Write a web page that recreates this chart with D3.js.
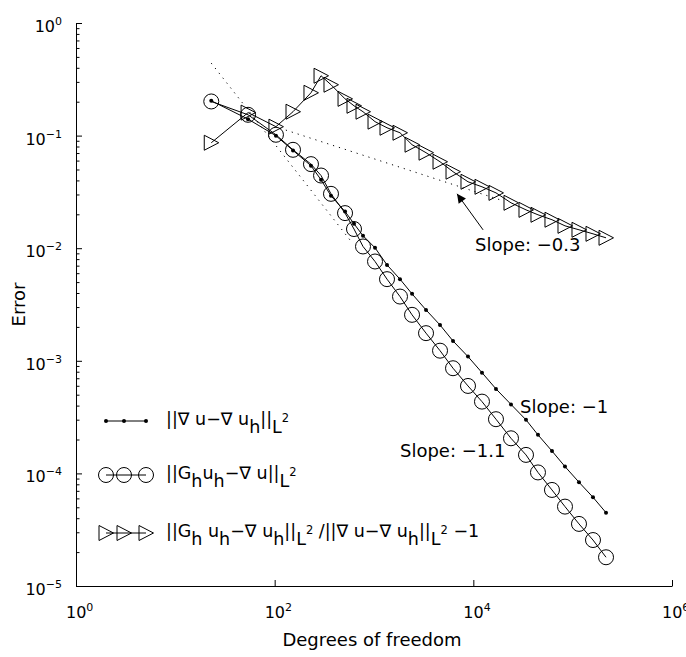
<!DOCTYPE html>
<html>
<head>
<meta charset="utf-8">
<script src="https://cdn.jsdelivr.net/npm/d3@7"></script>
<style>
  body { margin: 0; background: #fff; }
  svg text { font-family: "DejaVu Sans", "Liberation Sans", sans-serif; fill: #000; white-space: pre; }
</style>
</head>
<body>
<svg id="chart"></svg>
<script>
// degrees of freedom of each refinement step
const dofs = [23, 54, 103, 153, 232, 293, 369, 511, 629, 775, 1024, 1352, 1827, 2415, 3340,
  4621, 6244, 8836, 12220, 16900, 23940, 33900, 44750, 61900, 83700, 115800, 160200, 216700];

// ||grad u - grad u_h||  (small dots)
const gradError = [0.204, 0.140, 0.0997, 0.0738, 0.0540, 0.0405, 0.0292, 0.0212, 0.0165, 0.0129,
  0.01008, 0.00711, 0.00531, 0.00393, 0.00283, 0.00208, 0.00150, 0.00109, 0.000785, 0.000563,
  0.000410, 0.000299, 0.000220, 0.000158, 0.000115, 8.35e-5, 6.14e-5, 4.48e-5];

// ||G_h u_h - grad u||  (circles)
const recoveryError = [0.201, 0.153, 0.1017, 0.0748, 0.0558, 0.0442, 0.0304, 0.0205, 0.0148, 0.01036,
  0.00762, 0.00531, 0.00372, 0.00256, 0.00176, 0.00123, 0.000859, 0.000598, 0.000434, 0.000303,
  0.000205, 0.000146, 0.000102, 7.13e-5, 5.07e-5, 3.56e-5, 2.56e-5, 1.80e-5];

// ratio - 1  (triangles)
const effectivityError = [0.0864, 0.160, 0.120, 0.163, 0.240, 0.340, 0.283, 0.212, 0.184, 0.163,
  0.133, 0.1174, 0.106, 0.0830, 0.0705, 0.0586, 0.0478, 0.0389, 0.0351, 0.0310,
  0.0253, 0.0219, 0.0198, 0.0179, 0.0158, 0.01457, 0.01342, 0.01237];

const xTickExps = [0, 2, 4, 6];
const yTickExps = [-5, -4, -3, -2, -1, 0];

// reference slope lines (dotted)
const steepSlopeX = [23, 570];
const steepSlopeY = [0.44, 0.0119];
const flatSlopeX = [113, 18570];
const flatSlopeY = [0.1164, 0.0269];

// arrow pointing at the flat slope line: tail, tip
const arrowX = [12540, 6850];
const arrowY = [0.01455, 0.0304];

const slopeLabels = ['Slope: \u22120.3', 'Slope: \u22121', 'Slope: \u22121.1'];
const slopeLabelX = [10400, 29500, 1827];
const slopeLabelY = [0.0095, 3.44e-4, 1.40e-4];

const legendRows = [
  [['||\u2207 u\u2212\u2207 u', ''], ['h', 'sub'], ['||', ''], ['L', 'sub'], ['2', 'sup']],
  [['||G', ''], ['h', 'sub'], ['u', ''], ['h', 'sub'], ['\u2212\u2207 u||', ''], ['L', 'sub'], ['2', 'sup']],
  [['||G', ''], ['h', 'sub'], [' u', ''], ['h', 'sub'], ['\u2212\u2207 u', ''], ['h', 'sub'], ['||', ''],
   ['L', 'sub'], ['2', 'sup'], [' /||\u2207 u\u2212\u2207 u', ''], ['h', 'sub'], ['||', ''], ['L', 'sub'],
   ['2', 'sup'], [' \u22121', '']]
];

class convergencePlot {

  constructor(_config) {
    this.config = {
      parentElement: _config.parentElement,
      containerWidth: _config.containerWidth || 686,
      containerHeight: _config.containerHeight || 657,
      margin: _config.margin || { top: 23, right: 14, bottom: 71, left: 76 }
    };
    this.initVis();
  }

  initVis() {
    let vis = this;

    vis.width = vis.config.containerWidth - vis.config.margin.left - vis.config.margin.right;
    vis.height = vis.config.containerHeight - vis.config.margin.top - vis.config.margin.bottom;

    vis.svg = d3.select(vis.config.parentElement)
      .attr('width', vis.config.containerWidth)
      .attr('height', vis.config.containerHeight);

    vis.xScale = d3.scaleLog().domain([1, 1e6]).range([0, vis.width]);
    vis.yScale = d3.scaleLog().domain([1e-5, 1]).range([vis.height, 0]);

    vis.chart = vis.svg.append('g')
      .attr('transform', `translate(${vis.config.margin.left},${vis.config.margin.top})`);

    vis.svg.append('defs').append('marker')
      .attr('id', 'arrowhead')
      .attr('viewBox', '0 0 10 10')
      .attr('refX', 10).attr('refY', 5)
      .attr('markerUnits', 'userSpaceOnUse')
      .attr('markerWidth', 13).attr('markerHeight', 9)
      .attr('orient', 'auto')
      .append('path').attr('d', 'M0,0L10,5L0,10z').attr('fill', '#000');

    // axis labels
    vis.svg.append('text')
      .attr('x', vis.config.margin.left + vis.width / 2 - 2)
      .attr('y', 646)
      .attr('text-anchor', 'middle')
      .attr('font-size', 18)
      .text('Degrees of freedom');

    vis.svg.append('text')
      .attr('transform', `translate(25, ${vis.config.margin.top + vis.height / 2}) rotate(-90)`)
      .attr('text-anchor', 'middle')
      .attr('font-size', 18)
      .text('Error');

    vis.renderVis();
  }

  renderVis() {
    let vis = this;
    const x = vis.xScale, y = vis.yScale;

    // axes: ticks point inwards, no box
    const yMajor = yTickExps.map(e => Math.pow(10, e));
    const yMinor = [];
    yTickExps.slice(0, -1).forEach(e => {
      for (let k = 2; k < 10; k++) yMinor.push(k * Math.pow(10, e));
    });

    const yAxisG = vis.chart.append('g').attr('class', 'y-axis');
    yAxisG.call(d3.axisLeft(y).tickValues(yMajor).tickSizeInner(-6).tickSizeOuter(0).tickFormat(''));
    yAxisG.append('g').call(d3.axisLeft(y).tickValues(yMinor).tickSizeInner(-3.5).tickSizeOuter(0).tickFormat(''))
      .select('.domain').remove();

    const xAxisG = vis.chart.append('g').attr('class', 'x-axis')
      .attr('transform', `translate(0,${vis.height})`);
    xAxisG.call(d3.axisBottom(x).tickValues(xTickExps.map(e => Math.pow(10, e)))
      .tickSizeInner(-6).tickSizeOuter(0).tickFormat(''));

    vis.chart.selectAll('.domain, .tick line').attr('stroke', '#000').attr('stroke-width', 1);

    const powerLabel = (sel, e) => {
      sel.append('tspan').text('10');
      sel.append('tspan').attr('dy', -7).attr('font-size', 11)
        .text(e < 0 ? '\u2212' + (-e) : String(e));
    };

    yTickExps.forEach(e => {
      vis.chart.append('text')
        .attr('x', -14)
        .attr('y', y(Math.pow(10, e)) + 9)
        .attr('text-anchor', 'end')
        .attr('font-size', 16)
        .call(powerLabel, e);
    });

    // the "10" sits centred on the tick, exponent trails it
    xTickExps.forEach(e => {
      vis.chart.append('text')
        .attr('x', x(Math.pow(10, e)) - 10)
        .attr('y', vis.height + 32)
        .attr('font-size', 16)
        .call(powerLabel, e);
    });

    // dotted reference slopes
    const slopeLine = d3.line().x(d => x(d[0])).y(d => y(d[1]));
    [[steepSlopeX, steepSlopeY], [flatSlopeX, flatSlopeY]].forEach(([xs, ys]) => {
      vis.chart.append('path')
        .attr('d', slopeLine(d3.zip(xs, ys)))
        .attr('fill', 'none')
        .attr('stroke', '#000')
        .attr('stroke-width', 1)
        .attr('stroke-dasharray', '1.2 5');
    });

    // series lines
    const seriesLine = d3.line().x(d => x(d[0])).y(d => y(d[1]));
    [gradError, recoveryError, effectivityError].forEach(vals => {
      vis.chart.append('path')
        .attr('d', seriesLine(d3.zip(dofs, vals)))
        .attr('fill', 'none')
        .attr('stroke', '#000')
        .attr('stroke-width', 1);
    });

    const triPath = 'M-7,-7.5L-7,7.5L7.5,0Z';

    vis.chart.selectAll('.dot')
      .data(d3.zip(dofs, gradError))
      .join('circle')
      .attr('class', 'dot')
      .attr('cx', d => x(d[0])).attr('cy', d => y(d[1]))
      .attr('r', 2).attr('fill', '#000');

    vis.chart.selectAll('.ring')
      .data(d3.zip(dofs, recoveryError))
      .join('circle')
      .attr('class', 'ring')
      .attr('cx', d => x(d[0])).attr('cy', d => y(d[1]))
      .attr('r', 7.5).attr('fill', 'none').attr('stroke', '#000').attr('stroke-width', 1);

    vis.chart.selectAll('.tri')
      .data(d3.zip(dofs, effectivityError))
      .join('path')
      .attr('class', 'tri')
      .attr('transform', d => `translate(${x(d[0])},${y(d[1])})`)
      .attr('d', triPath).attr('fill', 'none').attr('stroke', '#000').attr('stroke-width', 1);

    // annotation arrow + slope labels
    vis.chart.append('line')
      .attr('x1', x(arrowX[0])).attr('y1', y(arrowY[0]))
      .attr('x2', x(arrowX[1])).attr('y2', y(arrowY[1]))
      .attr('stroke', '#000').attr('stroke-width', 1)
      .attr('marker-end', 'url(#arrowhead)');

    slopeLabels.forEach((t, i) => {
      vis.chart.append('text')
        .attr('x', x(slopeLabelX[i]))
        .attr('y', y(slopeLabelY[i]))
        .attr('font-size', 18)
        .text(t);
    });

    // legend
    const legend = vis.svg.append('g').attr('class', 'legend');
    const rowY = [421, 475, 533];
    const fs = 17.5;
    const offsets = { '': 0, sub: 8, sup: -3 };
    legendRows.forEach((segs, i) => {
      const ly = rowY[i];
      legend.append('line')
        .attr('x1', 106).attr('x2', 146).attr('y1', ly).attr('y2', ly)
        .attr('stroke', '#000').attr('stroke-width', 1);
      [106, 124, 146].forEach(mx => {
        if (i === 0) {
          legend.append('circle').attr('cx', mx).attr('cy', ly).attr('r', 2).attr('fill', '#000');
        } else if (i === 1) {
          legend.append('circle').attr('cx', mx).attr('cy', ly).attr('r', 7.5)
            .attr('fill', 'none').attr('stroke', '#000');
        } else {
          legend.append('path').attr('transform', `translate(${mx},${ly})`).attr('d', triPath)
            .attr('fill', 'none').attr('stroke', '#000');
        }
      });
      const txt = legend.append('text')
        .attr('x', 166).attr('y', ly + 4).attr('font-size', fs);
      let cur = 0;
      segs.forEach(([s, kind]) => {
        const off = offsets[kind];
        txt.append('tspan')
          .attr('dy', off - cur)
          .attr('font-size', kind === 'sup' ? 11.5 : fs)
          .text(s);
        cur = off;
      });
    });
  }
}

new convergencePlot({ parentElement: '#chart' });
</script>
</body>
</html>
